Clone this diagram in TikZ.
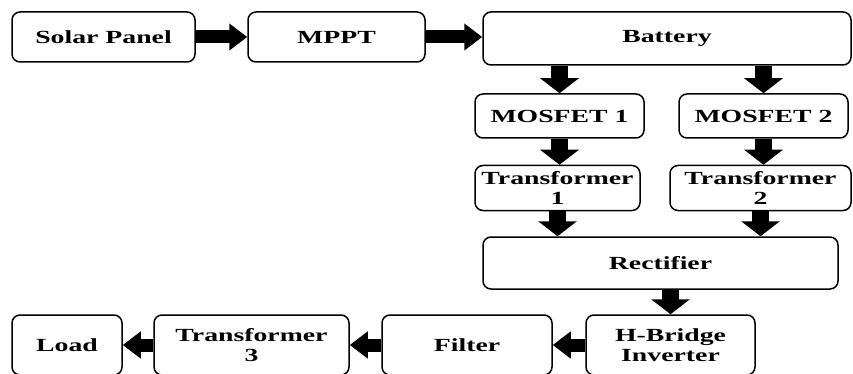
\documentclass[tikz,border=0pt]{standalone}
\usepackage{fontspec}
\setmainfont[FakeStretch=1.5]{Liberation Serif}
\usetikzlibrary{arrows.meta}
\tikzset{
  blk/.style={draw=black, line width=1.5pt, rounded corners=8pt, fill=white,
    font=\fontsize{18.5}{20}\selectfont\bfseries, align=center, inner sep=0pt},
  harrow/.style={line width=13pt, -{Triangle[width=26pt,length=18pt]}},
  varrow/.style={line width=17pt, -{Triangle[width=38pt,length=15pt]}},
}
\begin{document}
\begin{tikzpicture}[x=1pt,y=-1pt]
\useasboundingbox (0,0) rectangle (853,374);
% top row
\node[blk, minimum width=183pt, minimum height=50pt] (solar) at (103.5,37) {Solar Panel};
\node[blk, minimum width=177pt, minimum height=50pt] (mppt) at (336.5,37) {MPPT};
\node[blk, minimum width=368pt, minimum height=53pt] (bat) at (667,38.5) {Battery};
% switching branches
\node[blk, minimum width=169pt, minimum height=44pt] (m1) at (559.5,116) {MOSFET 1};
\node[blk, minimum width=169pt, minimum height=44pt] (m2) at (763.5,116) {MOSFET 2};
\node[blk, minimum width=165pt, minimum height=45pt] (t1) at (557.5,188) {Transformer\\1};
\node[blk, minimum width=181pt, minimum height=45pt] (t2) at (760.5,188) {Transformer\\2};
\node[blk, minimum width=355pt, minimum height=52pt] (rect) at (660.5,263) {Rectifier};
% output chain
\node[blk, minimum width=169pt, minimum height=60pt] (hb) at (670.5,345) {H-Bridge\\Inverter};
\node[blk, minimum width=170pt, minimum height=60pt] (filt) at (467,345) {Filter};
\node[blk, minimum width=195pt, minimum height=60pt] (t3) at (251.5,345) {Transformer\\3};
\node[blk, minimum width=110pt, minimum height=60pt] (load) at (67,345) {Load};
% connectors
\draw[harrow] (solar.east) -- (mppt.west);
\draw[harrow] (mppt.east) -- (mppt.east -| bat.west);
\draw[varrow] (m1.north |- bat.south) -- (m1.north);
\draw[varrow] (m2.north |- bat.south) -- (m2.north);
\draw[varrow] (m1.south) -- (m1.south |- t1.north);
\draw[varrow] (m2.south) -- (m2.south |- t2.north);
\draw[varrow] (t1.south) -- (t1.south |- rect.north);
\draw[varrow] (t2.south) -- (t2.south |- rect.north);
\draw[varrow] (hb.north |- rect.south) -- (hb.north);
\draw[harrow] (hb.west) -- (filt.east);
\draw[harrow] (filt.west) -- (t3.east);
\draw[harrow] (t3.west) -- (load.east);
\end{tikzpicture}
\end{document}
